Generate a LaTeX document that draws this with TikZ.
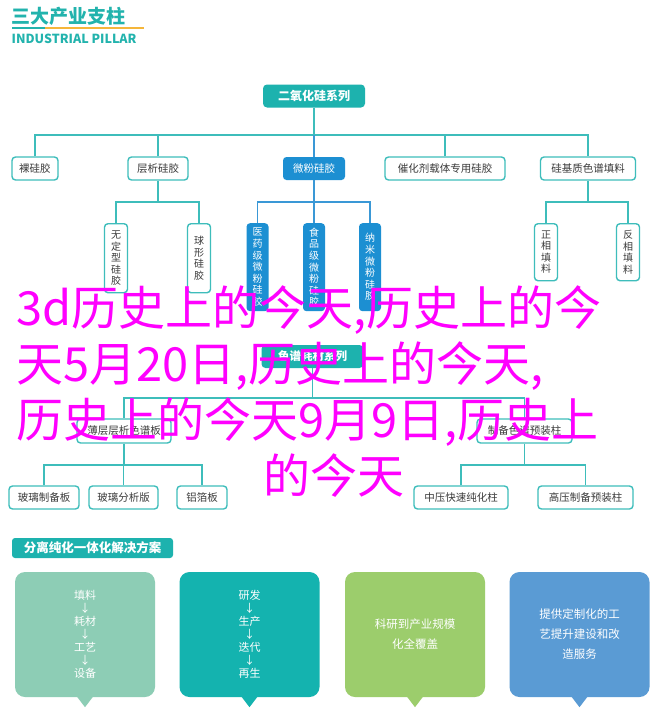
\documentclass[tikz,border=0pt]{standalone}
\usepackage{fontspec}
\setmainfont{Noto Sans CJK SC}
\usetikzlibrary{calc}
\definecolor{tealL}{HTML}{3EBDBB}
\definecolor{tealF}{HTML}{1DB2AE}
\definecolor{blueF}{HTML}{1C8FD2}
\definecolor{blueL}{HTML}{3A98D6}
\definecolor{logoT}{HTML}{22B3AD}
\definecolor{logoO}{HTML}{F5B63A}
\definecolor{txtG}{HTML}{3A3A3A}
\definecolor{boxA}{HTML}{8DCDB5}
\definecolor{boxB}{HTML}{14B3AF}
\definecolor{boxC}{HTML}{9CCD6C}
\definecolor{boxD}{HTML}{5A9BD4}
\definecolor{mag}{HTML}{FF00FF}
\begin{document}
\begin{tikzpicture}[x=1pt,y=-1pt,
  conn/.style={draw=tealL,line width=1.4pt},
  bconn/.style={draw=blueL,line width=1.4pt},
  wbox/.style={draw=tealL,fill=white,line width=1.4pt,rounded corners=3.5pt,text=txtG,
     font=\fontsize{10.5}{12}\selectfont,inner sep=0pt,minimum height=23pt},
  tbox/.style={fill=tealF,rounded corners=4pt,text=white,inner sep=0pt,minimum height=23pt,
     font=\bfseries\fontsize{12}{14}\selectfont},
  bbox/.style={fill=blueF,rounded corners=3.5pt,text=white,inner sep=0pt,minimum height=23pt,
     font=\fontsize{10.5}{12}\selectfont},
  vbox/.style={wbox,align=center,minimum width=23pt,font=\fontsize{10}{11.4}\selectfont},
  vbbox/.style={bbox,align=center,minimum width=22pt,font=\fontsize{10}{11.6}\selectfont},
  pbox/.style={rounded corners=10pt,minimum width=140pt,minimum height=125pt,inner sep=0pt,
     text=white,align=center},
  magtext/.style={text=mag,inner sep=0pt,font=\fontsize{47}{56}\selectfont}
]
\useasboundingbox (0,0) rectangle (660,720);
\fill[white] (0,0) rectangle (660,720);

% logo
\node[anchor=west,inner sep=0pt,text=logoT,font=\bfseries\fontsize{19}{20}\selectfont] (logo) at (11,16.5) {三大产业支柱};
\draw[logoT,line width=1.8pt] (12,28) -- (45,28);
\draw[logoO,line width=1.8pt] (45,28) -- (144,28);
\node[anchor=west,inner sep=0pt,text=logoT,font=\bfseries\fontsize{12.5}{14}\selectfont] (logoen) at (11.5,38.5) {INDUSTRIAL PILLAR};

% root
\node[tbox,minimum width=102pt] (root) at (314,96) {二氧化硅系列};

% level 1
\node[wbox,minimum width=46pt] (n1) at (35,168.5) {裸硅胶};
\node[wbox,minimum width=60pt] (n2) at (158,168.5) {层析硅胶};
\node[bbox,minimum width=62pt] (n3) at (314,168.5) {微粉硅胶};
\node[wbox,minimum width=120pt] (n4) at (445,168.5) {催化剂载体专用硅胶};
\node[wbox,minimum width=95pt] (n5) at (588,168.5) {硅基质色谱填料};

\coordinate (bus0) at (314,135);
\draw[conn] (root.south) -- (bus0);
\draw[conn] (n1.north) |- (bus0) -| (n5.north);
\draw[conn] (n2.north) -- (n2.north |- bus0);
\draw[conn] (n4.north) -- (n4.north |- bus0);
\draw[bconn] (n3.north) -- (n3.north |- bus0);

% level 2
\node[vbox,anchor=north,minimum height=69pt] (v1) at (116,223) {无\\定\\型\\硅\\胶};
\node[vbox,anchor=north,minimum height=69pt] (v2) at (199,223) {球\\形\\硅\\胶};
\node[vbbox,anchor=north,minimum height=88pt] (v3) at (257.5,223) {医\\药\\级\\微\\粉\\硅\\胶};
\node[vbbox,anchor=north,minimum height=88pt] (v4) at (314,223) {食\\品\\级\\微\\粉\\硅\\胶};
\node[vbbox,anchor=north,minimum height=88pt] (v5) at (370,223) {纳\\米\\微\\粉\\硅\\胶};
\node[vbox,anchor=north,minimum height=57pt] (v6) at (546,223) {正\\相\\填\\料};
\node[vbox,anchor=north,minimum height=57pt] (v7) at (628,223) {反\\相\\填\\料};

\coordinate (bus1) at (158,202);
\draw[conn] (n2.south) -- (bus1);
\draw[conn] (v1.north) |- (bus1) -| (v2.north);
\coordinate (bus2) at (314,202);
\draw[bconn] (n3.south) -- (bus2);
\draw[bconn] (v3.north) |- (bus2) -| (v5.north);
\draw[bconn] (v4.north) -- (bus2);
\coordinate (bus3) at (588,202);
\draw[conn] (n5.south) -- (bus3);
\draw[conn] (v6.north) |- (bus3) -| (v7.north);

% second tree
\node[tbox,minimum width=102pt,font=\bfseries\fontsize{11.5}{13}\selectfont] (c0) at (312.5,356.5) {色谱耗材系列};
\node[wbox,minimum width=94pt,minimum height=24pt] (c1) at (124,431) {薄层层析色谱板};
\node[wbox,minimum width=95pt,minimum height=24pt] (c2) at (524.5,431) {制备色谱预装柱};
\coordinate (bus4) at (312.5,398);
\draw[conn] (c0.south) -- (bus4);
\draw[conn] (c1.north) |- (bus4) -| (c2.north);

\node[wbox,minimum width=70pt] (d1) at (44,497.5) {玻璃制备板};
\node[wbox,minimum width=69pt] (d2) at (123.5,497.5) {玻璃分析版};
\node[wbox,minimum width=50pt] (d3) at (202,497.5) {铝箔板};
\node[wbox,minimum width=94pt] (d4) at (461,497.5) {中压快速纯化柱};
\node[wbox,minimum width=95pt] (d5) at (585.5,497.5) {高压制备预装柱};
\coordinate (bus5) at (124,465);
\draw[conn] (c1.south) -- (bus5);
\draw[conn] (d1.north) |- (bus5) -| (d3.north);
\draw[conn] (d2.north) -- (d2.north |- bus5);
\coordinate (bus6) at (524.5,465);
\draw[conn] (c2.south) -- (bus6);
\draw[conn] (d4.north) |- (bus6) -| (d5.north);

% bottom section
\node[fill=tealF,rounded corners=3pt,minimum width=161pt,minimum height=20pt,inner sep=0pt,
      text=white,font=\bfseries\fontsize{12.5}{14}\selectfont] (hdr) at (92.5,548) {分离纯化一体化解决方案};

\node[pbox,fill=boxA,font=\fontsize{11}{13}\selectfont] (p1) at (85,634.5) {填料\\↓\\耗材\\↓\\工艺\\↓\\设备};
\node[pbox,fill=boxB,font=\fontsize{11}{13}\selectfont] (p2) at (249.5,634.5) {研发\\↓\\生产\\↓\\迭代\\↓\\再生};
\node[pbox,fill=boxC,font=\fontsize{11.5}{20}\selectfont] (p3) at (415,634.5) {科研到产业规模\\化全覆盖};
\node[pbox,fill=boxD,font=\fontsize{11.5}{20}\selectfont] (p4) at (579.5,634.5) {提供定制化的工\\艺提升建设和改\\造服务};
\foreach \p/\c in {p1/boxA,p2/boxB,p3/boxC,p4/boxD}{
  \fill[\c] ($(\p.south)+(-8,-0.5)$) -- ($(\p.south)+(8,-0.5)$) -- ($(\p.south)+(0,10)$) -- cycle;
}

% overlay text
\node[magtext,anchor=base west] (m1) at (16,325) {3d历史上的今天,历史上的今};
\node[magtext,anchor=base west] (m2) at (16,381) {天5月20日,历史上的今天,};
\node[magtext,anchor=base west] (m3) at (16,437) {历史上的今天9月9日,历史上};
\node[magtext,anchor=base] (m4) at (334,493) {的今天};
\end{tikzpicture}
\end{document}
